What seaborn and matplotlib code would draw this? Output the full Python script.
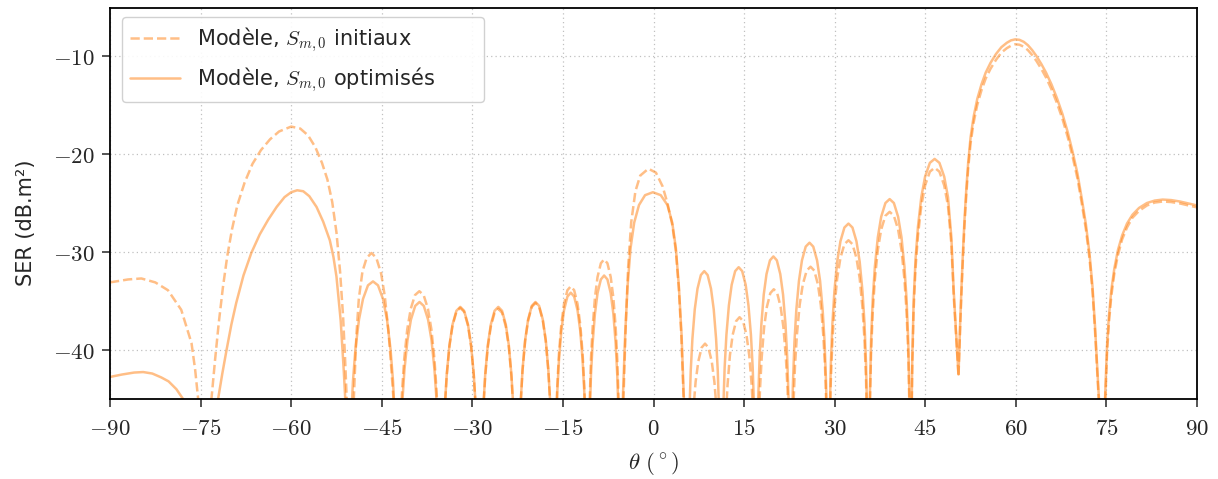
import matplotlib
matplotlib.use('Agg')
import matplotlib.pyplot as plt
from matplotlib.ticker import FuncFormatter, MultipleLocator
import seaborn as sns

# theta (deg) / SER (dB.m2), one lobe per line
# nulls are put at -70 dB, below the visible range
theta_init = [
    -90.0, -87.0, -84.8, -82.5, -80.4, -78.2, -76.5, -75.9, -75.4, -74.4,
    -73.2, -72.6, -72.0, -71.3, -70.6, -69.8, -68.9, -67.7, -66.4, -65.0, -63.5, -62.0, -60.0, -58.5, -57.2, -56.0,
    -54.9, -54.0, -53.2, -52.5, -51.9, -51.4, -51.1, -50.8, -50.2,
    -49.75, -49.5, -49.2, -48.8, -48.2, -47.5, -46.7, -45.9, -45.1, -44.5, -43.9, -43.4, -43.0, -42.7, -42.35,
    -41.92, -41.64, -41.28, -40.78, -40.2, -39.5, -38.78, -38.06, -37.35, -36.78, -36.28, -35.92, -35.63, -35.2,
    -34.82, -34.56, -34.24, -33.79, -33.28, -32.64, -32.0, -31.36, -30.72, -30.21, -29.76, -29.44, -29.18, -28.8,
    -28.43, -28.18, -27.87, -27.44, -26.94, -26.32, -25.7, -25.08, -24.46, -23.96, -23.53, -23.22, -22.97, -22.6,
    -22.23, -21.99, -21.69, -21.26, -20.77, -20.16, -19.55, -18.94, -18.33, -17.84, -17.42, -17.11, -16.87, -16.5,
    -16.16, -15.94, -15.66, -15.27, -14.82, -14.26, -13.7, -13.14, -12.58, -12.13, -11.74, -11.46, -11.24, -10.9,
    -10.57, -10.36, -10.08, -9.70, -9.27, -8.72, -8.18, -7.63, -7.09, -6.65, -6.27, -6.0, -5.78, -5.45,
    -5.15, -4.95, -4.6, -4.2, -3.7, -3.0, -2.2, -0.85, 0.4, 1.5, 2.3, 3.1, 3.7, 4.2, 4.6, 4.95, 5.2, 5.75,
    6.31, 6.58, 6.97, 7.42, 7.97, 8.53, 9.08, 9.64, 10.08, 10.47, 10.75, 11.3,
    11.74, 11.97, 12.26, 12.65, 13.11, 13.68, 14.25, 14.82, 15.39, 15.85, 16.25, 16.53, 16.76, 17.05,
    17.4, 17.63, 17.92, 18.31, 18.77, 19.34, 19.91, 20.48, 21.05, 21.51, 21.91, 22.19, 22.42, 22.75,
    22.95, 23.15, 23.42, 23.75, 24.2, 24.72, 25.36, 26.0, 26.62, 27.22, 27.7, 28.1, 28.4, 28.63, 28.8, 28.98,
    29.15, 29.35, 29.62, 29.95, 30.41, 30.95, 31.61, 32.28, 32.94, 33.6, 34.14, 34.6, 34.94, 35.2, 35.4, 35.6,
    35.7, 35.81, 36.02, 36.3, 36.65, 37.14, 37.7, 38.4, 39.1, 39.8, 40.5, 41.06, 41.55, 41.9, 42.18, 42.39, 42.5, 42.6,
    42.72, 42.84, 43.07, 43.39, 43.79, 44.34, 44.97, 45.76, 46.55, 47.34, 48.13, 48.76, 49.32, 49.71, 50.03, 50.27,
    50.5, 50.65, 50.8, 51.0, 51.25, 51.5, 51.8, 52.1, 52.5, 53.0, 53.6, 54.3, 55.0, 55.8, 56.7, 57.6, 58.5, 59.2,
    59.9, 60.6, 61.3, 62.0, 62.7, 63.4, 64.2, 65.0, 65.9, 66.8, 67.7, 68.6, 69.4, 70.2, 70.9, 71.6, 72.2, 72.7,
    73.1, 73.45, 73.8, 74.3,
    74.65, 74.85, 75.1, 75.4, 75.8, 76.3, 76.9, 77.6, 78.4, 79.3, 80.4, 81.7, 83.0, 84.3, 85.7, 87.2, 88.6, 90.0,
]
ser_init = [
    -33.1, -32.8, -32.7, -33.1, -33.9, -35.9, -39.3, -42.0, -45.0, -70.0,
    -45.0, -41.0, -37.3, -33.6, -30.5, -27.7, -25.2, -22.9, -21.0, -19.6, -18.5, -17.7, -17.2, -17.4, -18.1, -19.3,
    -20.9, -22.6, -24.9, -28.0, -32.0, -36.6, -40.5, -45.0, -70.0,
    -47.0, -43.0, -38.5, -34.8, -32.0, -30.6, -30.1, -30.6, -32.2, -34.5, -38.0, -42.0, -45.5, -50.0, -70.0,
    -48.5, -44.2, -40.9, -37.9, -35.8, -34.4, -34.0, -34.4, -35.8, -37.9, -40.9, -44.2, -48.5, -70.0,
    -50.2, -45.9, -42.6, -39.6, -37.5, -36.1, -35.7, -36.1, -37.5, -39.6, -42.6, -45.9, -50.2, -70.0,
    -50.3, -46.0, -42.7, -39.7, -37.6, -36.2, -35.8, -36.2, -37.6, -39.7, -42.7, -46.0, -50.3, -70.0,
    -49.7, -45.4, -42.1, -39.1, -37.0, -35.6, -35.2, -35.6, -37.0, -39.1, -42.1, -45.4, -49.7, -70.0,
    -48.0, -43.7, -40.4, -37.4, -35.3, -33.9, -33.5, -33.9, -35.3, -37.4, -40.4, -43.7, -48.0, -70.0,
    -45.25, -40.95, -37.65, -34.65, -32.55, -31.15, -30.75, -31.15, -32.55, -34.65, -37.65, -40.95, -45.25, -70.0,
    -48.0, -44.5, -37.5, -31.5, -27.0, -23.8, -22.2, -21.5, -21.9, -23.3, -25.0, -27.2, -29.9, -33.8, -38.5, -44.5, -48.0, -70.0,
    -49.55, -46.25, -43.25, -41.15, -39.75, -39.35, -39.75, -41.15, -43.25, -46.25, -49.55, -70.0,
    -51.15, -46.85, -43.55, -40.55, -38.45, -37.05, -36.65, -37.05, -38.45, -40.55, -43.55, -46.85, -51.15, -70.0,
    -48.3, -44.0, -40.7, -37.7, -35.6, -34.2, -33.8, -34.2, -35.6, -37.7, -40.7, -44.0, -48.3, -70.0,
    -52.0, -46.0, -41.7, -38.4, -35.4, -33.3, -31.9, -31.5, -31.9, -33.3, -35.4, -38.4, -41.7, -46.0, -52.0, -70.0,
    -49.3, -43.3, -39.0, -35.7, -32.7, -30.6, -29.2, -28.8, -29.2, -30.6, -32.7, -35.7, -39.0, -43.3, -49.3, -70.0,
    -52.4, -46.4, -40.4, -36.1, -32.8, -29.8, -27.7, -26.3, -25.9, -26.3, -27.7, -29.8, -32.8, -36.1, -40.4, -46.4, -52.4, -70.0,
    -47.9, -41.9, -35.9, -31.6, -28.3, -25.3, -23.2, -21.8, -21.4, -21.8, -23.2, -25.3, -29.2, -34.5, -37.9, -40.5,
    -42.7, -39.9, -37.3, -34.0, -30.4, -27.2, -24.1, -21.5, -18.9, -16.8, -15.0, -13.5, -12.3, -11.3, -10.4, -9.65, -9.2, -8.95,
    -8.8, -8.85, -9.05, -9.4, -9.9, -10.5, -11.3, -12.2, -13.4, -14.8, -16.4, -18.3, -20.3, -22.5, -25.0, -27.7, -30.7, -34.1,
    -38.0, -42.0, -46.0, -70.0,
    -47.8, -44.5, -40.3, -37.3, -34.5, -32.2, -30.3, -28.7, -27.5, -26.5, -25.8, -25.25, -24.95, -24.85, -24.9, -25.05, -25.25, -25.45,
]

theta_opt = [
    -90.0, -88.0, -86.0, -84.5, -83.0, -81.5, -80.3, -79.0, -77.9, -76.8, -75.0,
    -73.5, -72.1, -71.4, -70.7, -69.9, -69.1, -67.9, -66.6, -65.2, -63.8, -62.4, -61.1, -60.0, -59.0, -58.0, -57.0,
    -55.8, -54.7, -53.6, -53.0, -52.5, -51.8, -51.3, -51.0, -50.5,
    -50.1, -49.77, -49.36, -48.77, -48.11, -47.28, -46.45, -45.62, -44.79, -44.13, -43.55, -43.13, -42.8, -42.3,
    -41.87, -41.59, -41.24, -40.74, -40.17, -39.46, -38.75, -38.04, -37.33, -36.76, -36.27, -35.91, -35.63, -35.2,
    -34.82, -34.56, -34.24, -33.79, -33.28, -32.64, -32.0, -31.36, -30.72, -30.21, -29.76, -29.44, -29.18, -28.8,
    -28.43, -28.18, -27.87, -27.44, -26.94, -26.32, -25.7, -25.08, -24.46, -23.96, -23.53, -23.22, -22.97, -22.6,
    -22.23, -21.99, -21.69, -21.26, -20.77, -20.16, -19.55, -18.94, -18.33, -17.84, -17.42, -17.11, -16.87, -16.5,
    -16.16, -15.94, -15.66, -15.27, -14.82, -14.26, -13.7, -13.14, -12.58, -12.13, -11.74, -11.46, -11.24, -10.9,
    -10.57, -10.36, -10.08, -9.70, -9.27, -8.72, -8.18, -7.63, -7.09, -6.65, -6.27, -6.0, -5.78, -5.45,
    -5.2, -5.05, -4.7, -4.3, -3.8, -3.2, -2.4, -1.4, -0.1, 1.2, 2.3, 3.1, 3.7, 4.2, 4.65, 5.0, 5.25, 5.6,
    5.94, 6.16, 6.44, 6.83, 7.28, 7.84, 8.4, 8.96, 9.52, 9.97, 10.36, 10.64, 10.86, 11.2,
    11.55, 11.78, 12.07, 12.48, 12.94, 13.52, 14.1, 14.68, 15.26, 15.72, 16.13, 16.42, 16.65, 17.0,
    17.34, 17.57, 17.86, 18.25, 18.71, 19.28, 19.85, 20.42, 20.99, 21.45, 21.85, 22.13, 22.36, 22.7,
    22.89, 23.08, 23.33, 23.64, 24.08, 24.58, 25.2, 25.83, 26.45, 27.08, 27.58, 28.01, 28.33, 28.58, 28.76, 28.95,
    29.15, 29.35, 29.62, 29.95, 30.41, 30.95, 31.61, 32.28, 32.94, 33.6, 34.14, 34.6, 34.94, 35.2, 35.4, 35.6,
    35.7, 35.81, 36.02, 36.3, 36.65, 37.14, 37.7, 38.4, 39.1, 39.8, 40.5, 41.06, 41.55, 41.9, 42.18, 42.39, 42.5, 42.6,
    42.72, 42.84, 43.07, 43.39, 43.79, 44.34, 44.97, 45.76, 46.55, 47.34, 48.13, 48.76, 49.32, 49.71, 50.03, 50.27,
    50.5, 50.65, 50.8, 51.0, 51.25, 51.5, 51.8, 52.1, 52.5, 53.0, 53.6, 54.3, 55.0, 55.8, 56.7, 57.6, 58.5, 59.2,
    59.9, 60.6, 61.3, 62.0, 62.7, 63.4, 64.2, 65.0, 65.9, 66.8, 67.7, 68.6, 69.4, 70.2, 70.9, 71.6, 72.2, 72.7,
    73.1, 73.45, 73.8, 74.3,
    74.65, 74.85, 75.1, 75.4, 75.8, 76.3, 76.9, 77.6, 78.4, 79.3, 80.4, 81.7, 83.0, 84.3, 85.7, 87.2, 88.6, 90.0,
]
ser_opt = [
    -42.75, -42.5, -42.3, -42.25, -42.4, -42.8, -43.2, -44.0, -45.0, -47.5, -70.0,
    -52.0, -45.0, -42.4, -40.0, -37.4, -35.2, -32.4, -30.1, -28.2, -26.7, -25.4, -24.4, -23.9, -23.7, -23.8, -24.3,
    -25.4, -26.9, -28.8, -30.5, -32.5, -37.0, -42.0, -45.5, -70.0,
    -47.5, -43.2, -39.9, -36.9, -34.8, -33.4, -33.0, -33.4, -34.8, -36.9, -39.9, -43.2, -47.5, -70.0,
    -49.6, -45.3, -42.0, -39.0, -36.9, -35.5, -35.1, -35.5, -36.9, -39.0, -42.0, -45.3, -49.6, -70.0,
    -50.1, -45.8, -42.5, -39.5, -37.4, -36.0, -35.6, -36.0, -37.4, -39.5, -42.5, -45.8, -50.1, -70.0,
    -50.1, -45.8, -42.5, -39.5, -37.4, -36.0, -35.6, -36.0, -37.4, -39.5, -42.5, -45.8, -50.1, -70.0,
    -49.6, -45.3, -42.0, -39.0, -36.9, -35.5, -35.1, -35.5, -36.9, -39.0, -42.0, -45.3, -49.6, -70.0,
    -48.65, -44.35, -41.05, -38.05, -35.95, -34.55, -34.15, -34.55, -35.95, -38.05, -41.05, -44.35, -48.65, -70.0,
    -46.9, -42.6, -39.3, -36.3, -34.2, -32.8, -32.4, -32.8, -34.2, -36.3, -39.3, -42.6, -46.9, -70.0,
    -48.0, -44.5, -38.5, -33.5, -29.6, -27.0, -25.2, -24.2, -23.9, -24.2, -25.2, -27.0, -29.6, -33.5, -38.5, -44.5, -48.0, -70.0,
    -46.45, -42.15, -38.85, -35.85, -33.75, -32.35, -31.95, -32.35, -33.75, -35.85, -38.85, -42.15, -46.45, -70.0,
    -46.05, -41.75, -38.45, -35.45, -33.35, -31.95, -31.55, -31.95, -33.35, -35.45, -38.45, -41.75, -46.05, -70.0,
    -44.95, -40.65, -37.35, -34.35, -32.25, -30.85, -30.45, -30.85, -32.25, -34.35, -37.35, -40.65, -44.95, -70.0,
    -49.55, -43.55, -39.25, -35.95, -32.95, -30.85, -29.45, -29.05, -29.45, -30.85, -32.95, -35.95, -39.25, -43.55, -49.55, -70.0,
    -47.6, -41.6, -37.3, -34.0, -31.0, -28.9, -27.5, -27.1, -27.5, -28.9, -31.0, -34.0, -37.3, -41.6, -47.6, -70.0,
    -51.1, -45.1, -39.1, -34.8, -31.5, -28.5, -26.4, -25.0, -24.6, -25.0, -26.4, -28.5, -31.5, -34.8, -39.1, -45.1, -51.1, -70.0,
    -47.0, -41.0, -35.0, -30.7, -27.4, -24.4, -22.3, -20.9, -20.5, -20.9, -22.3, -24.4, -28.5, -34.0, -37.5, -40.2,
    -42.5, -39.5, -36.8, -33.5, -29.8, -26.6, -23.5, -20.9, -18.3, -16.2, -14.4, -12.9, -11.7, -10.7, -9.8, -9.1, -8.65, -8.4,
    -8.3, -8.35, -8.55, -8.9, -9.4, -10.0, -10.8, -11.7, -12.9, -14.3, -15.9, -17.8, -19.8, -22.0, -24.5, -27.2, -30.2, -33.6,
    -37.5, -41.5, -45.5, -70.0,
    -47.0, -43.5, -39.5, -36.6, -33.9, -31.7, -29.8, -28.3, -27.1, -26.2, -25.5, -25.0, -24.75, -24.65, -24.7, -24.85, -25.05, -25.25,
]

label_init = r'Modèle, $S_{m,0}$ initiaux'
label_opt = r'Modèle, $S_{m,0}$ optimisés'

sns.set_style('ticks')
plt.rcParams['font.family'] = ['DejaVu Sans']
plt.rcParams['mathtext.fontset'] = 'cm'

fig, ax = plt.subplots(figsize=(12.18, 4.79), dpi=100)
fig.subplots_adjust(left=0.0903, right=0.9828, top=0.9833, bottom=0.167)

orange = '#ff7f0e'
sns.lineplot(x=theta_init, y=ser_init, ax=ax, color=orange, alpha=0.5, lw=1.8,
             linestyle='--', label=label_init, sort=False, estimator=None)
sns.lineplot(x=theta_opt, y=ser_opt, ax=ax, color=orange, alpha=0.5, lw=1.8,
             label=label_opt, sort=False, estimator=None)

ax.set_xlim(-90, 90)
ax.set_ylim(-45, -5.1)
ax.xaxis.set_major_locator(MultipleLocator(15))
ax.yaxis.set_major_locator(MultipleLocator(10))
ax.xaxis.set_major_formatter(FuncFormatter(lambda v, p: f'${v:.0f}$'))
ax.yaxis.set_major_formatter(FuncFormatter(lambda v, p: f'${v:.0f}$'))
ax.tick_params(axis='x', labelsize=16.5, direction='out', length=6, width=1.1, pad=7)
ax.tick_params(axis='y', labelsize=16.5, direction='out', length=6, width=1.1, pad=5)
ax.grid(True, linestyle=(0, (1, 2.5)), color='#c0c0c0', linewidth=0.9)
for sp in ax.spines.values():
    sp.set_visible(True)
    sp.set_linewidth(1.3)
    sp.set_color('black')

ax.set_xlabel(r'$\theta\ (^\circ)$', fontsize=16.5, labelpad=7)
ax.set_ylabel('SER (dB.m²)', fontsize=15)
ax.yaxis.set_label_coords(-0.068, 0.45)

ax.legend(loc='upper left', bbox_to_anchor=(0.011, 0.977, 0.333, 0), mode='expand',
          borderaxespad=0, fontsize=15, handlelength=2.4, frameon=True,
          edgecolor='#cccccc', framealpha=0.9)

fig.savefig('out.png', dpi=100)
